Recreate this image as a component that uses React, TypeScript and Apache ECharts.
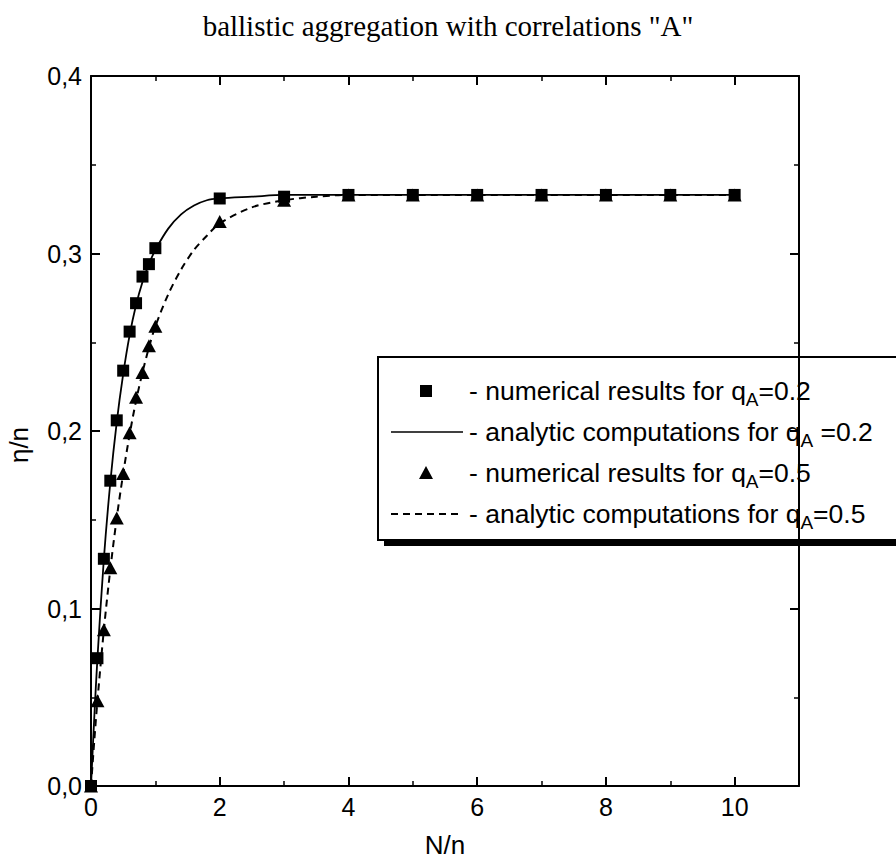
import React, { useEffect, useRef } from "react";
import * as echarts from "echarts";

// ---- data ----
const numX = [0, 0.1, 0.2, 0.3, 0.4, 0.5, 0.6, 0.7, 0.8, 0.9, 1, 2, 3, 4, 5, 6, 7, 8, 9, 10];
const numQ02 = [0, 0.072, 0.128, 0.172, 0.206, 0.234, 0.256, 0.272, 0.287, 0.294, 0.303, 0.331, 0.332, 0.333, 0.333, 0.333, 0.333, 0.333, 0.333, 0.333];
const numQ05 = [0, 0.048, 0.088, 0.123, 0.151, 0.176, 0.199, 0.219, 0.233, 0.248, 0.259, 0.318, 0.330, 0.333, 0.333, 0.333, 0.333, 0.333, 0.333, 0.333];

const curveX = [0, 0.05, 0.1, 0.2, 0.3, 0.4, 0.5, 0.6, 0.7, 0.8, 0.9, 1.0, 1.2, 1.4, 1.6, 1.8, 2.0, 2.5, 3, 3.5, 4, 5, 6, 7, 8, 9, 10];
const anaQ02 = [0, 0.038, 0.072, 0.128, 0.171, 0.205, 0.232, 0.254, 0.271, 0.284, 0.294, 0.302, 0.314, 0.322, 0.327, 0.330, 0.331, 0.332, 0.333, 0.333, 0.333, 0.333, 0.333, 0.333, 0.333, 0.333, 0.333];
const anaQ05 = [0, 0.025, 0.048, 0.088, 0.122, 0.151, 0.176, 0.198, 0.217, 0.233, 0.247, 0.259, 0.277, 0.291, 0.302, 0.310, 0.317, 0.326, 0.330, 0.332, 0.333, 0.333, 0.333, 0.333, 0.333, 0.333, 0.333];

const titleText = 'ballistic aggregation with correlations "A"';
const xTitle = "N/n";
const yTitle = "η/n";
const legendTexts = [
  "{t|- numerical results for q}{s|A}{t|=0.2}",
  "{t|- analytic computations for q}{s|A}{t| =0.2}",
  "{t|- numerical results for q}{s|A}{t|=0.5}",
  "{t|- analytic computations for q}{s|A}{t|=0.5}",
];

const zip = (xs: number[], ys: number[]) => xs.map((x, i) => [x, ys[i]]);

const SANS = "'Liberation Sans', Arial, Helvetica, sans-serif";
const SERIF = "'Liberation Serif', 'Times New Roman', serif";

export default function App() {
  const ref = useRef<HTMLDivElement>(null);
  useEffect(() => {
    document.body.style.margin = "0";
    if (!ref.current) return;
    const chart = echarts.init(ref.current, null, { renderer: "svg" });

    const gridPos = { left: 91, right: 97, top: 76, bottom: 79 };
    const rich = {
      t: { fontSize: 26.5, fontFamily: SANS, fill: "#000", color: "#000" },
      s: { fontSize: 19, fontFamily: SANS, fill: "#000", color: "#000", padding: [16, 0, 0, 0] },
    };
    const rowY = [391, 432, 473, 514];
    const textX = 469;

    const legendChildren: any[] = [
      { type: "rect", shape: { x: 384, y: 363, width: 600, height: 183 }, style: { fill: "#000" } },
      { type: "rect", shape: { x: 378, y: 357, width: 600, height: 183 }, style: { fill: "#fff", stroke: "#000", lineWidth: 2 } },
      { type: "rect", shape: { x: 420, y: rowY[0] - 6, width: 12, height: 12 }, style: { fill: "#000" } },
      { type: "line", shape: { x1: 391, y1: rowY[1], x2: 463, y2: rowY[1] }, style: { stroke: "#000", lineWidth: 1.5 } },
      { type: "polygon", shape: { points: [[419, rowY[2] + 6], [433, rowY[2] + 6], [426, rowY[2] - 7]] }, style: { fill: "#000" } },
      { type: "line", shape: { x1: 391, y1: rowY[3], x2: 463, y2: rowY[3] }, style: { stroke: "#000", lineWidth: 1.8, lineDash: [7, 5] } },
    ];
    legendTexts.forEach((t, i) => {
      legendChildren.push({
        type: "text",
        x: textX,
        y: rowY[i],
        style: {
          text: t,
          rich,
          fill: "#000",
          align: "left",
          verticalAlign: "middle",
          textAlign: "left",
          textVerticalAlign: "middle",
        },
      });
    });

    const option: any = {
      animation: false,
      backgroundColor: "#fff",
      title: {
        text: titleText,
        left: "center",
        top: 6,
        textStyle: { fontFamily: SERIF, fontSize: 29, fontWeight: "normal", color: "#000" },
      },
      grid: [
        { ...gridPos, containLabel: false, outerBoundsMode: "none" },
        { ...gridPos, containLabel: false, outerBoundsMode: "none" },
      ],
      xAxis: [
        {
          type: "value", gridIndex: 0, position: "bottom", min: 0, max: 11, interval: 2,
          axisLine: { show: true, onZero: false, lineStyle: { color: "#000", width: 2 } },
          axisTick: { show: true, inside: true, length: 9, lineStyle: { color: "#000", width: 2 } },
          axisLabel: {
            show: true, margin: 8, color: "#000", fontFamily: SANS, fontSize: 25, showMaxLabel: false,
            formatter: (v: number) => (v > 10 ? "" : String(v)),
          },
          splitLine: { show: false },
        },
        {
          type: "value", gridIndex: 0, position: "top", min: 0, max: 11, interval: 2,
          axisLine: { show: true, onZero: false, lineStyle: { color: "#000", width: 2 } },
          axisTick: { show: true, inside: true, length: 9, lineStyle: { color: "#000", width: 2 } },
          axisLabel: { show: false },
          splitLine: { show: false },
        },
        {
          type: "value", gridIndex: 1, position: "bottom", min: 0, max: 11, interval: 1,
          axisLine: { show: false, onZero: false },
          axisTick: { show: true, inside: true, length: 5, lineStyle: { color: "#000", width: 1.5 } },
          axisLabel: { show: false },
          splitLine: { show: false },
        },
        {
          type: "value", gridIndex: 1, position: "top", min: 0, max: 11, interval: 1,
          axisLine: { show: false, onZero: false },
          axisTick: { show: true, inside: true, length: 5, lineStyle: { color: "#000", width: 1.5 } },
          axisLabel: { show: false },
          splitLine: { show: false },
        },
      ],
      yAxis: [
        {
          type: "value", gridIndex: 0, position: "left", min: 0, max: 0.4, interval: 0.1,
          axisLine: { show: true, onZero: false, lineStyle: { color: "#000", width: 2 } },
          axisTick: { show: true, inside: true, length: 9, lineStyle: { color: "#000", width: 2 } },
          minorTick: { show: true, splitNumber: 2, length: 5, lineStyle: { color: "#000", width: 1.5 } },
          axisLabel: {
            show: true, margin: 9, color: "#000", fontFamily: SANS, fontSize: 25,
            formatter: (v: number) => v.toFixed(1).replace(".", ","),
          },
          splitLine: { show: false },
          minorSplitLine: { show: false },
        },
        {
          type: "value", gridIndex: 0, position: "right", min: 0, max: 0.4, interval: 0.1,
          axisLine: { show: true, onZero: false, lineStyle: { color: "#000", width: 2 } },
          axisTick: { show: true, inside: true, length: 9, lineStyle: { color: "#000", width: 2 } },
          minorTick: { show: true, splitNumber: 2, length: 5, lineStyle: { color: "#000", width: 1.5 } },
          axisLabel: { show: false },
          splitLine: { show: false },
          minorSplitLine: { show: false },
        },
        {
          type: "value", gridIndex: 1, min: 0, max: 1, show: false,
        },
      ],
      series: [
        {
          name: "analytic q=0.5", type: "line", xAxisIndex: 0, yAxisIndex: 0,
          data: zip(curveX, anaQ05), showSymbol: false, smooth: 0.3,
          lineStyle: { color: "#000", width: 2, type: [7, 5], opacity: 1 }, z: 2,
        },
        {
          name: "analytic q=0.2", type: "line", xAxisIndex: 0, yAxisIndex: 0,
          data: zip(curveX, anaQ02), showSymbol: false, smooth: 0.3,
          lineStyle: { color: "#000", width: 1.8, opacity: 1 }, z: 2,
        },
        {
          name: "numerical q=0.5", type: "scatter", xAxisIndex: 0, yAxisIndex: 0,
          data: zip(numX, numQ05), symbol: "triangle", symbolSize: [14, 13],
          itemStyle: { color: "#000", opacity: 1 }, z: 3, clip: false,
        },
        {
          name: "numerical q=0.2", type: "scatter", xAxisIndex: 0, yAxisIndex: 0,
          data: zip(numX, numQ02), symbol: "rect", symbolSize: 12,
          itemStyle: { color: "#000", opacity: 1 }, z: 4, clip: false,
        },
      ],
      graphic: [
        {
          type: "text", x: 445, y: 845,
          style: { text: xTitle, fontFamily: SANS, fontSize: 26, fill: "#000", align: "center", verticalAlign: "middle", textAlign: "center", textVerticalAlign: "middle" },
        },
        {
          type: "text", x: 19, y: 445, rotation: Math.PI / 2,
          style: { text: yTitle, fontFamily: SANS, fontSize: 26, fill: "#000", align: "center", verticalAlign: "middle", textAlign: "center", textVerticalAlign: "middle" },
        },
        { type: "group", z: 100, children: legendChildren },
      ],
    };
    chart.setOption(option);
    return () => chart.dispose();
  }, []);
  return <div ref={ref} style={{ width: 896, height: 865 }} />;
}
